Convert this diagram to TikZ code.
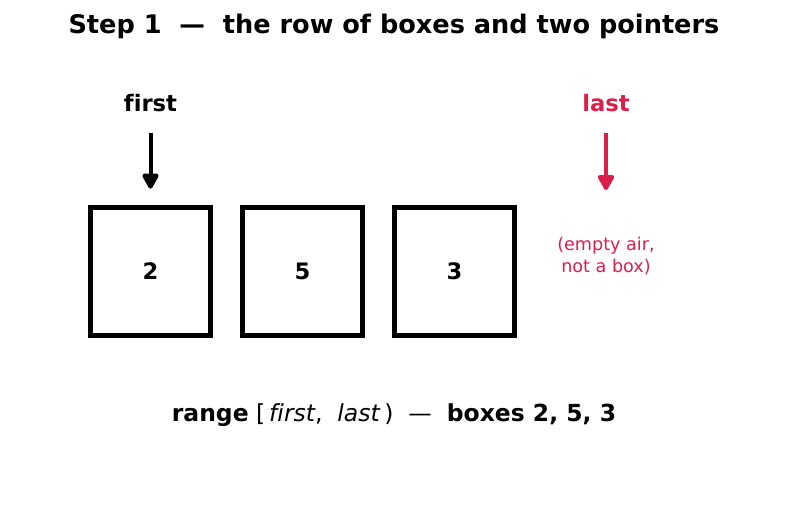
\documentclass[tikz,border=0pt]{standalone}
\usepackage{fontspec}
\setmainfont[Ligatures=NoCommon]{DejaVu Sans}
\usetikzlibrary{positioning}
\usetikzlibrary{arrows.meta}
\definecolor{lastred}{RGB}{220,30,75}

\tikzset{
  cell/.style={draw, line width=3.75pt, minimum width=90pt, minimum height=96.5pt,
    font=\bfseries\fontsize{17}{20}\selectfont},
  ptrlabel/.style={font=\bfseries\fontsize{17}{20}\selectfont},
  ptr/.style={-{Triangle[length=13pt, width=13.5pt, round]}, line width=3pt},
}

\begin{document}
\begin{tikzpicture}[x=0.75pt, y=-0.75pt]
    \useasboundingbox (0,0) rectangle (787,512);

    \node[font=\bfseries\fontsize{19.2}{22}\selectfont] (title) at (394,26)
      {Step 1\ \ —\ \ the row of boxes and two pointers};

    \node[cell] (b1) at (150.5,271.5) {2};
    \node[cell, right=20.25pt of b1] (b2) {5};
    \node[cell, right=20.25pt of b2] (b3) {3};

    \node[ptrlabel] (first) at (150.5,103) {first};
    \node[ptrlabel, text=lastred] (last) at (606,103) {last};
    \coordinate (lasttip) at (606,190);
    \node[text=lastred, align=center, font=\fontsize{13.2}{16}\selectfont] (air) at (606,256)
      {(empty air,\\not a box)};

    % Connect the pointers
    \draw[ptr] ([yshift=-22.5pt]first.center) -- ([yshift=12pt]b1.north);
    \draw[ptr, lastred] ([yshift=-22.5pt]last.center) -- (lasttip);

    \node[font=\fontsize{17.6}{21}\selectfont] (range) at (394,415)
      {\textbf{range} [\,\textit{first},\ \ \textit{last}\,)\ \ —\ \ \textbf{boxes 2, 5, 3}};
  \end{tikzpicture}
\end{document}
